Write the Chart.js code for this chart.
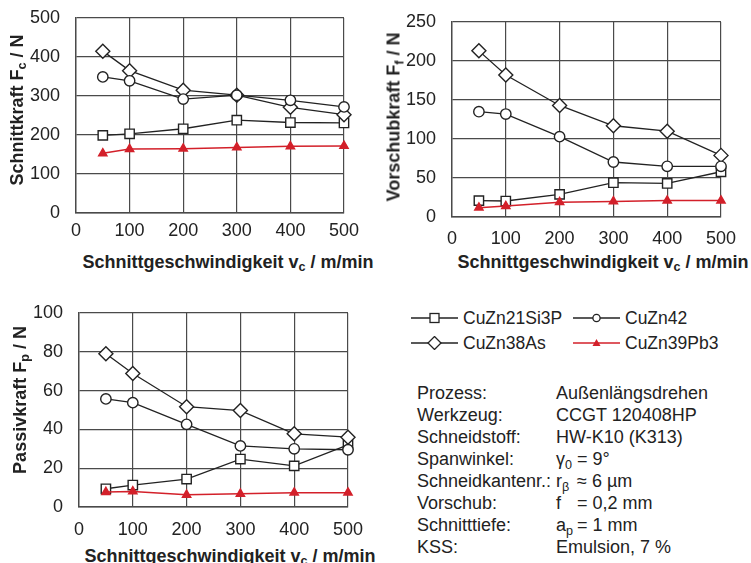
<!DOCTYPE html>
<html>
<head>
<meta charset="utf-8">
<script src="https://cdn.jsdelivr.net/npm/chart.js@4/dist/chart.umd.min.js"></script>
<style>
  body { margin: 0; background: #fff; }
  #page { position: relative; width: 751px; height: 563px; overflow: hidden;
    font-family: 'Liberation Sans', Arial, sans-serif; color: #222; }
  canvas { position: absolute; }
  .xt, .yt { position: absolute; font-weight: bold; font-size: 18px; white-space: nowrap; }
  .xt { transform: translate(-50%, -50%); }
  .yt { transform: translate(-50%, -50%) rotate(-90deg); }
  sub { font-size: 70%; vertical-align: -0.3em; line-height: 0; }
  #legend { position: absolute; left: 411px; top: 307px; font-size: 17.5px; }
  .li { position: absolute; white-space: nowrap; height: 22px; line-height: 22px; }
  .li svg { position: absolute; left: 0; top: 4px; }
  .li span { position: absolute; left: 52px; }
  #info { position: absolute; left: 417px; top: 382px; font-size: 18px; line-height: 22px; }
  #info .row { position: relative; height: 22px; white-space: nowrap; }
  #info .k { position: absolute; left: 0; }
  #info .v { position: absolute; left: 139px; }
  #info .s { display: inline-block; width: 21px; }
</style>
</head>
<body>
<div id="page">
  <canvas id="c1" width="375" height="245" style="left:0;top:0"></canvas>
  <canvas id="c2" width="376" height="245" style="left:375px;top:0"></canvas>
  <canvas id="c3" width="375" height="250" style="left:0;top:290px"></canvas>

  <div class="yt" style="left:17px;top:110px">Schnittkraft F<sub>c</sub> / N</div>
  <div class="xt" style="left:228px;top:262px">Schnittgeschwindigkeit v<sub>c</sub> / m/min</div>
  <div class="yt" style="left:394px;top:117px">Vorschubkraft F<sub>f</sub> / N</div>
  <div class="xt" style="left:603px;top:262px">Schnittgeschwindigkeit v<sub>c</sub> / m/min</div>
  <div class="yt" style="left:20px;top:400px">Passivkraft F<sub>p</sub> / N</div>
  <div class="xt" style="left:230px;top:556px">Schnittgeschwindigkeit v<sub>c</sub> / m/min</div>

  <div id="legend"></div>

  <div id="info">
    <div class="row"><span class="k">Prozess:</span><span class="v">Außenlängsdrehen</span></div>
    <div class="row"><span class="k">Werkzeug:</span><span class="v">CCGT 120408HP</span></div>
    <div class="row"><span class="k">Schneidstoff:</span><span class="v">HW-K10 (K313)</span></div>
    <div class="row"><span class="k">Spanwinkel:</span><span class="v"><span class="s">γ<sub>0</sub></span>= 9°</span></div>
    <div class="row"><span class="k">Schneidkantenr.:</span><span class="v"><span class="s">r<sub>β</sub></span>≈ 6 µm</span></div>
    <div class="row"><span class="k">Vorschub:</span><span class="v"><span class="s">f</span>= 0,2 mm</span></div>
    <div class="row"><span class="k">Schnitttiefe:</span><span class="v"><span class="s">a<sub>p</sub></span>= 1 mm</span></div>
    <div class="row"><span class="k">KSS:</span><span class="v">Emulsion, 7 %</span></div>
  </div>
</div>

<script>
// cutting speed (m/min)
const vc = [50, 100, 200, 300, 400, 500]

// Schnittkraft Fc / N
const fcSi3P = [199, 203, 216, 238, 232, 231]
const fcZn42 = [349, 339, 292, 302, 289, 272]
const fcAs = [415, 365, 315, 302, 271, 252]
const fcPb3 = [153, 164, 165, 168, 171, 172]

// Vorschubkraft Ff / N
const ffSi3P = [21, 20.5, 29, 44, 43, 58]
const ffZn42 = [135, 132, 103, 70.5, 65, 65]
const ffAs = [213, 182, 143, 117, 110, 79]
const ffPb3 = [12, 14, 19, 20, 21, 21]

// Passivkraft Fp / N
const fpSi3P = [9.4, 11.3, 14.4, 24.7, 21.2, 32]
const fpZn42 = [55.7, 53.8, 42.6, 31.5, 30, 29.5]
const fpAs = [79, 68.8, 51.7, 49.7, 37.7, 36]
const fpPb3 = [7.7, 8, 6.3, 6.8, 7.4, 7.4]

const materials = ['CuZn21Si3P', 'CuZn42', 'CuZn38As', 'CuZn39Pb3']

const FONT = "'Liberation Sans', Arial, sans-serif"
const INK = '#222'
const GRID = '#4a4a4a'
const RED = '#d3202a'

// marker style per material
const styles = [
  { pointStyle: 'rect', pointRadius: 6.6, color: INK, fill: '#fff', order: 4 },
  { pointStyle: 'circle', pointRadius: 5.2, color: INK, fill: '#fff', order: 2 },
  { pointStyle: 'rectRot', pointRadius: 7, color: INK, fill: '#fff', order: 3 },
  { pointStyle: 'triangle', pointRadius: 4.8, color: RED, fill: RED, order: 1 }
]

function makeChart(id, series, yMax, yStep, pad, yWidth, xHeight, tickPad) {
  const datasets = series.map((vals, i) => {
    const s = styles[i]
    return {
      label: materials[i],
      data: vals.map((v, k) => ({ x: vc[k], y: v })),
      borderColor: s.color,
      borderWidth: i === 3 ? 1.5 : 1.3,
      pointStyle: s.pointStyle,
      pointRadius: s.pointRadius,
      pointBackgroundColor: s.fill,
      pointBorderColor: s.color,
      pointBorderWidth: 1.4,
      order: s.order,
      clip: false,
      tension: 0
    }
  })

  return new Chart(document.getElementById(id).getContext('2d'), {
    type: 'line',
    data: { datasets },
    options: {
      responsive: false,
      animation: false,
      layout: { padding: pad },
      scales: {
        x: {
          type: 'linear',
          min: 0,
          max: 500,
          ticks: { stepSize: 100, padding: tickPad, color: INK, font: { family: FONT, size: 18 } },
          grid: { color: GRID, lineWidth: 1.2, drawTicks: false },
          border: { color: GRID, width: 1.4 },
          afterFit: (s) => {
            s.height = xHeight
            s.paddingLeft = 0
            s.paddingRight = 0
          }
        },
        y: {
          min: 0,
          max: yMax,
          ticks: { stepSize: yStep, padding: 16, color: INK, font: { family: FONT, size: 18 } },
          grid: { color: GRID, lineWidth: 1.2, drawTicks: false },
          border: { color: GRID, width: 1.4 },
          afterFit: (s) => {
            s.width = yWidth
            s.paddingTop = 0
            s.paddingBottom = 0
          }
        }
      },
      plugins: { legend: { display: false }, tooltip: { enabled: false } }
    }
  })
}

makeChart('c1', [fcSi3P, fcZn42, fcAs, fcPb3], 500, 100,
  { top: 18, right: 31, left: 0, bottom: 0 }, 76, 32, 7)
makeChart('c2', [ffSi3P, ffZn42, ffAs, ffPb3], 250, 50,
  { top: 22, right: 30, left: 0, bottom: 0 }, 77, 28, 11)
makeChart('c3', [fpSi3P, fpZn42, fpAs, fpPb3], 100, 20,
  { top: 23, right: 27, left: 0, bottom: 0 }, 79, 33, 12)

// legend with small svg line samples
const markerSvg = [
  '<rect x="19" y="2.5" width="9" height="9" fill="#fff" stroke="' + INK + '" stroke-width="1.3"/>',
  '<circle cx="23.5" cy="7" r="3.6" fill="#fff" stroke="' + INK + '" stroke-width="1.3"/>',
  '<polygon points="23.5,0.5 30,7 23.5,13.5 17,7" fill="#fff" stroke="' + INK + '" stroke-width="1.3"/>',
  '<polygon points="23.5,3 27.5,10 19.5,10" fill="' + RED + '"/>'
]
const legendPos = [[0, 0], [162, 0], [0, 25], [162, 25]]
const legend = document.getElementById('legend')
materials.forEach((m, i) => {
  const col = i === 3 ? RED : INK
  const el = document.createElement('div')
  el.className = 'li'
  el.style.left = legendPos[i][0] + 'px'
  el.style.top = legendPos[i][1] + 'px'
  el.innerHTML = '<svg width="47" height="14"><line x1="0" y1="7" x2="47" y2="7" stroke="' + col +
    '" stroke-width="1.4"/>' + markerSvg[i] + '</svg><span>' + m + '</span>'
  legend.appendChild(el)
})
</script>
</body>
</html>
